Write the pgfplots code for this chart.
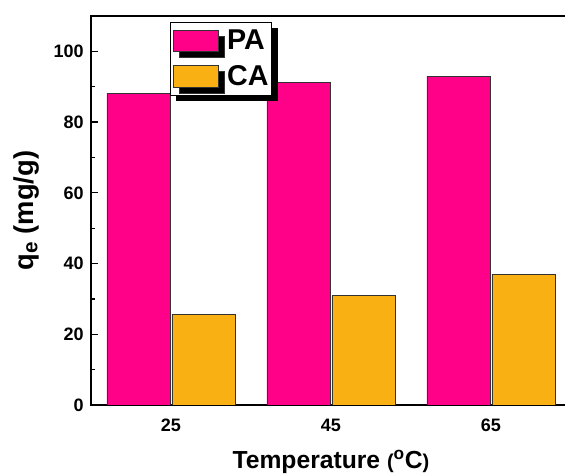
\documentclass[border=0pt]{standalone}
\usepackage{pgfplots}
\pgfplotsset{compat=1.18}
\usepackage{fontspec}
\setmainfont{Liberation Sans}
\usetikzlibrary{shadows}
\definecolor{pacol}{HTML}{FF0088}
\definecolor{cacol}{HTML}{F8B012}
\begin{document}
\begin{tikzpicture}
\path[use as bounding box, clip] (-68.25pt,-51.75pt) rectangle (355.5pt,303.75pt);
\begin{axis}[
  at={(0,0)}, anchor=south west,
  scale only axis,
  width=360pt, height=291.75pt,
  xmin=-0.5, xmax=2.5,
  ymin=0, ymax=110,
  xtick={0,1,2}, xticklabels={25,45,65},
  xtick style={draw=none},
  ytick={0,20,40,60,80,100},
  minor y tick num=1,
  tick align=inside,
  xtick pos=bottom, ytick pos=left,
  major tick length=5.25pt, minor tick length=3pt,
  axis line style={line width=1.1pt},
  every tick/.style={line width=0.9pt, black},
  /pgf/number format/assume math mode=true,
  ticklabel style={font=\fontsize{13.5}{16}\selectfont\bfseries},
  yticklabel style={xshift=-2pt},
  xticklabel style={yshift=-1.5pt},
  xlabel={\textbf{Temperature {\fontsize{15}{16}\selectfont(}\textsuperscript{o}C{\fontsize{15}{16}\selectfont)}}},
  ylabel={\textbf{q\raisebox{-0.3ex}{\fontsize{15.5}{16}\selectfont e} (mg/g)}},
  label style={font=\fontsize{18.5}{20}\selectfont},
  ylabel style={font=\fontsize{20.5}{22}\selectfont},
  xlabel style={at={(axis description cs:0.5,-0.162)}, anchor=base},
  ylabel style={at={(axis description cs:-0.1354,0.5)}, anchor=center},
  ybar, bar width=0.394,
  legend style={at={(rel axis cs:0.1646,0.9846)}, anchor=north west,
    draw=black, line width=0.6pt, fill=white, inner xsep=2.25pt, inner ysep=5.4pt,
    font=\fontsize{21.5}{21.5}\selectfont\bfseries,
    nodes={inner sep=0pt}, row sep=10pt, column sep=6pt,
    drop shadow={shadow xshift=4.5pt, shadow yshift=-4.5pt, fill=black, opacity=1}},
  legend cell align=left,
  legend image code/.code={\draw[#1, line width=0.6pt] (0pt,-8.1pt) rectangle (33.75pt,8.1pt);},
]
\addplot[fill=pacol, draw=black!80, line width=0.6pt, bar shift=-0.203]
  coordinates {(0,88.2) (1,91.2) (2,93.0)};
\addplot[fill=cacol, draw=black!80, line width=0.6pt, bar shift=0.203]
  coordinates {(0,25.7) (1,30.9) (2,37.0)};
\legend{PA,CA}
\end{axis}
\end{tikzpicture}
\end{document}
